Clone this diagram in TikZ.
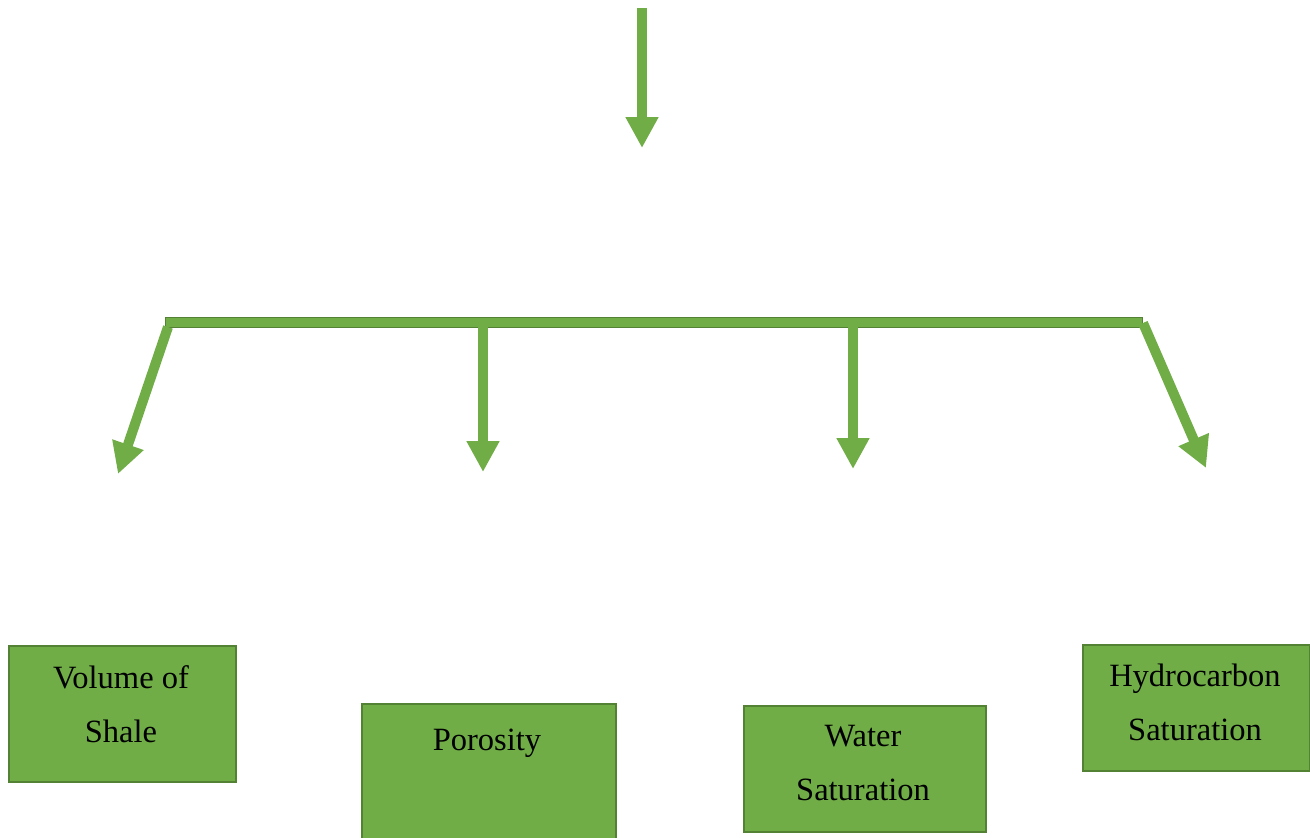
\documentclass[tikz,border=0pt]{standalone}
\usepackage{fontspec}
\setmainfont{Liberation Serif}
\usetikzlibrary{arrows.meta}
\definecolor{leaf}{HTML}{70AD47}
\definecolor{leafdark}{HTML}{548235}
\tikzset{
  flow/.style={draw=leaf, line width=10pt, -{Triangle[width=31pt,length=31pt]}},
  box/.style={draw=leafdark, fill=leaf, line width=2pt, inner sep=0pt, anchor=north west},
  lbl/.style={font=\fontsize{32.5}{54}\selectfont, align=center, inner sep=0pt, anchor=base}
}
\begin{document}
\begin{tikzpicture}[x=1pt,y=-1pt]
  \useasboundingbox (0,0) rectangle (1310,838);

  % incoming arrow
  \coordinate (in0) at (642,8);
  \coordinate (in1) at (642,148);
  \draw[flow] (in0) -- (in1);

  % distribution bar
  \node[box, line width=1.4pt, minimum width=977pt, minimum height=10pt] (bar) at (165,317) {};
  \coordinate (b1) at (168,327);
  \coordinate (b2) at (483,327);
  \coordinate (b3) at (853,327);
  \coordinate (b4) at (1143,323);
  \coordinate (t1) at (118,474);
  \coordinate (t2) at (483,472);
  \coordinate (t3) at (853,469);
  \coordinate (t4) at (1206,468);
  \draw[flow] (b1) -- (t1);
  \draw[flow] (b2) -- (t2);
  \draw[flow] (b3) -- (t3);
  \draw[flow] (b4) -- (t4);

  % result boxes
  \node[box, minimum width=227pt, minimum height=136pt] (vsh) at (8,645) {};
  \node[box, minimum width=254pt, minimum height=150pt] (por) at (361,703) {};
  \node[box, minimum width=242pt, minimum height=126pt] (sw)  at (743,705) {};
  \node[box, minimum width=227pt, minimum height=126pt] (shc) at (1082,644) {};

  % labels (anchored at the baseline of their last line)
  \node[lbl] (vshtxt) at (121,742) {Volume of\\Shale};
  \node[lbl] (portxt) at (487,750) {Porosity};
  \node[lbl] (swtxt)  at (863,800) {Water\\Saturation};
  \node[lbl] (shctxt) at (1195,740) {Hydrocarbon\\Saturation};
\end{tikzpicture}
\end{document}
